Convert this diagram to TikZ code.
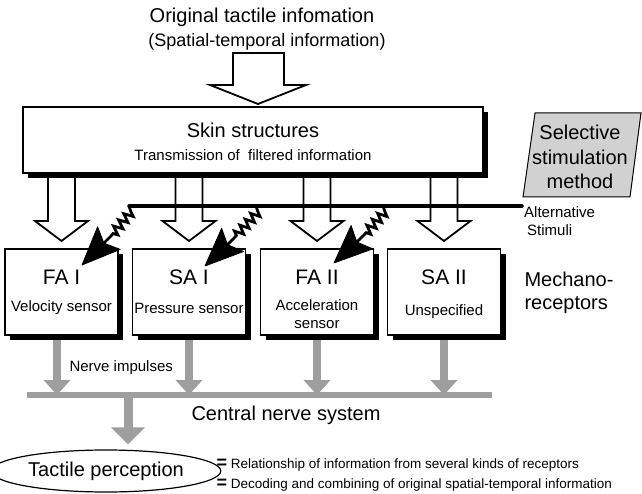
\documentclass[tikz,border=0pt]{standalone}
\usepackage{fontspec}
\setmainfont{Liberation Sans}
\usetikzlibrary{
    arrows.meta,
    calc,
    shapes.geometric,
    decorations.pathmorphing
}

\begin{document}
\begin{tikzpicture}[
    x=1pt, y=-1pt,
    >=Latex,
    bigtext/.style={font=\fontsize{20}{24}\selectfont},
    midtext/.style={font=\fontsize{15}{18}\selectfont},
    smalltext/.style={font=\fontsize{13.5}{16}\selectfont},
    plainbox/.style={draw, line width=1.3pt, fill=white},
    recbox/.style={plainbox, minimum width=113pt, minimum height=86pt, inner sep=0pt},
    boxshadow/.style={fill=black},
    hollow/.style={draw, line width=1.8pt, fill=white, line join=miter},
    stimline/.style={line width=3.5pt, line cap=round},
    zzline/.style={line width=2.8pt, decoration={zigzag, segment length=8pt, amplitude=4.5pt}},
    zzhead/.style={fill=black, draw=black, line width=0.8pt, line join=round},
    nerve/.style={black!38, line width=8.5pt, -{Triangle[length=15pt,width=26pt]}}
]
\useasboundingbox (0,0) rectangle (642,494);

% ==================== INPUT ====================
\node[bigtext] (orig) at (262,17) {Original tactile infomation};
\node[font=\fontsize{18}{21}\selectfont] (spat) at (267,42) {(Spatial-temporal information)};
\draw[hollow] (233,53) -- (284,53) -- (284,85) -- (306,85) -- (258,104) -- (210,85) -- (233,85) -- cycle;

% filtered paths down to the receptors
\draw[hollow] (48,173) -- ++(0,48) -- ++(-13,0) -- ++(26.5,20) -- ++(26.5,-20) -- ++(-13,0) -- ++(0,-48);
\draw[hollow] (175.5,173) -- ++(0,48) -- ++(-13,0) -- ++(26.5,20) -- ++(26.5,-20) -- ++(-13,0) -- ++(0,-48);
\draw[hollow] (303.5,173) -- ++(0,48) -- ++(-13,0) -- ++(26.5,20) -- ++(26.5,-20) -- ++(-13,0) -- ++(0,-48);
\draw[hollow] (430.5,173) -- ++(0,48) -- ++(-13,0) -- ++(26.5,20) -- ++(26.5,-20) -- ++(-13,0) -- ++(0,-48);

% shadows
\fill[boxshadow] (28,112) rectangle (488,178);
\fill[boxshadow] (10,254) rectangle (123,340);
\fill[boxshadow] (137.5,254) rectangle (250.5,340);
\fill[boxshadow] (265.5,254) rectangle (378.5,340);
\fill[boxshadow] (392.5,254) rectangle (505.5,340);

\node[plainbox, minimum width=460pt, minimum height=66pt] (skin) at (253,140) {};
\node[bigtext] (skintitle) at (253,130) {Skin structures};
\node[midtext] (skinsub) at (253,155) {Transmission of\ \ filtered information};

% selective stimulation
\draw[fill=black!18, line width=1pt] (535,113) -- (641,113) -- (630,197) -- (523,197) -- cycle;
\node[font=\fontsize{20}{24.5}\selectfont, align=center] (select) at (580,157) {Selective\\stimulation\\method};

% ==================== RECEPTORS ====================
\coordinate (cnsL) at (27,395);
\coordinate (cnsR) at (492,395);

\draw[nerve] (57,340) -- (cnsL -| 57,0);
\draw[nerve] (189,340) -- (cnsL -| 189,0);
\draw[nerve] (317,340) -- (cnsL -| 317,0);
\draw[nerve] (444,340) -- (cnsL -| 444,0);

\node[recbox] (fa1) at (61.5,292) {};
\node[recbox] (sa1) at (189,292) {};
\node[recbox] (fa2) at (317,292) {};
\node[recbox] (sa2) at (444,292) {};

\node[font=\fontsize{21}{24}\selectfont] (fa1t) at (61.5,277) {FA I};
\node[midtext] (fa1s) at (61.5,308) {Velocity sensor};
\node[font=\fontsize{21}{24}\selectfont] (sa1t) at (189,277) {SA I};
\node[midtext] (sa1s) at (189,308) {Pressure sensor};
\node[font=\fontsize{21}{24}\selectfont] (fa2t) at (317,277) {FA II};
\node[midtext, align=center] (fa2s) at (317,314) {Acceleration\\sensor};
\node[font=\fontsize{21}{24}\selectfont] (sa2t) at (444,277) {SA II};
\node[midtext] (sa2s) at (444,312) {Unspecified};

\node[font=\fontsize{20}{23}\selectfont, align=left, anchor=west] (mech) at (521,293) {Mechano-\\receptors};

% alternative stimuli
\coordinate (z1) at (129,206);
\coordinate (z2) at (256,206);
\coordinate (z3) at (383,206);

\draw[stimline] (z1) -- (522,206);
\node[midtext, align=left, anchor=west, inner sep=0pt] (alt) at (524,221) {Alternative\\\hspace{3pt}Stimuli};

\draw[zzline] (z1) -- (131,212) decorate {-- (111,236)} -- (104,243);
\draw[zzline] (z2) -- (258,212) decorate {-- (235,237)} -- (227.5,244.7);
\draw[zzline] (z3) -- (385,212) decorate {-- (364,235)} -- (356.8,242);
\fill[zzhead] (82,265) -- (97.6,226.8) -- (103.9,243.1) -- (120.2,249.4) -- cycle;
\fill[zzhead] (205,266) -- (221.6,228.3) -- (227.5,244.7) -- (243.6,251.5) -- cycle;
\fill[zzhead] (334,263) -- (351.1,225.5) -- (356.8,242) -- (372.7,248.9) -- cycle;

% ==================== NERVE SYSTEM ====================
\node[midtext, anchor=west] (imp) at (66,368) {Nerve impulses};

\draw[black!38, line width=6pt] (cnsL) -- (cnsR);
\node[bigtext] (cns) at (286,415) {Central nerve system};

\node[draw, ellipse, line width=1.2pt, minimum width=186pt, minimum height=42pt, bigtext] (perc) at (106,471) {Tactile perception};
\coordinate (c2p) at (128,395);
\draw[nerve, line width=9pt, -{Triangle[length=17pt,width=33pt]}, shorten >=5pt] (c2p) -- (c2p |- perc.north);

\node[smalltext, anchor=west] (rel) at (213,465) {{\fontsize{18}{18}\selectfont\bfseries =} Relationship of information from several kinds of receptors};
\node[smalltext, anchor=west] (dec) at (213,485) {{\fontsize{18}{18}\selectfont\bfseries =} Decoding and combining of original spatial-temporal information};

\end{tikzpicture}
\end{document}
